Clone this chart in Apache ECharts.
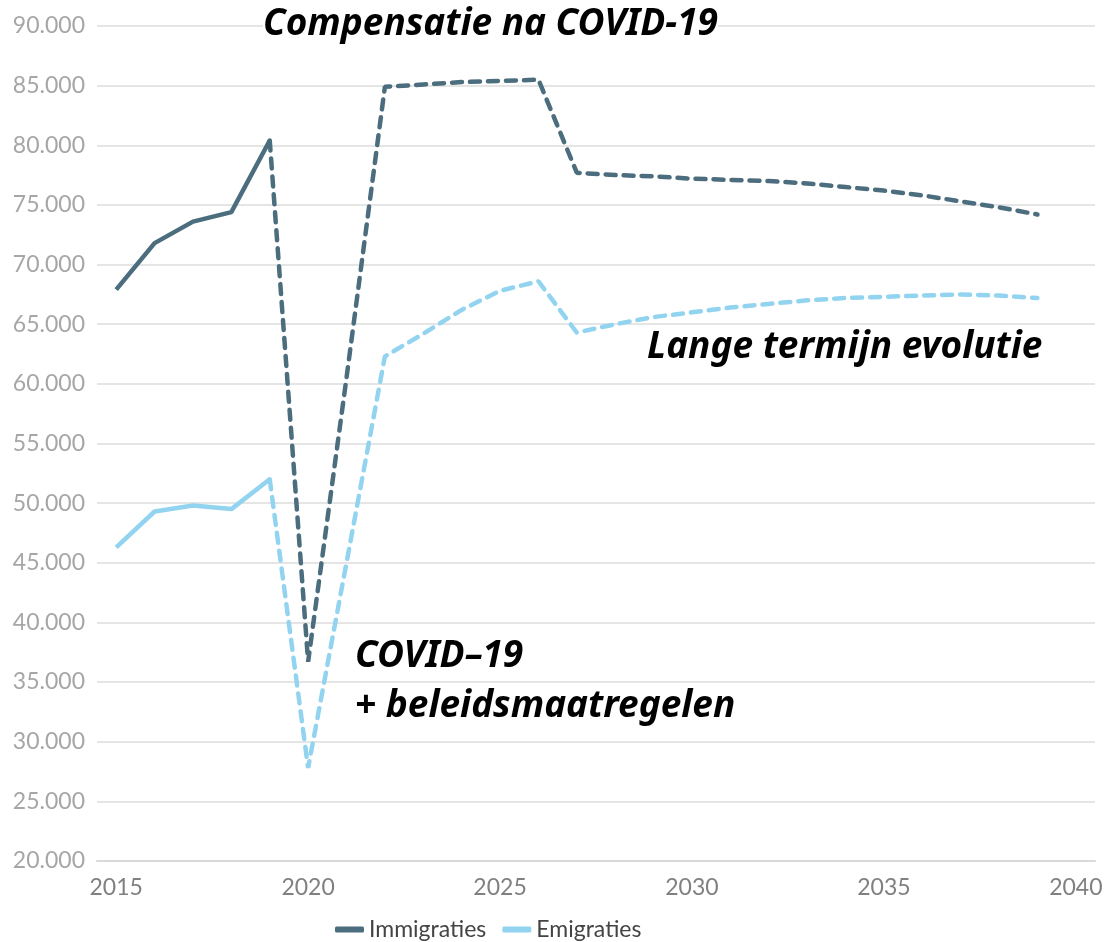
<!DOCTYPE html>
<html>
<head>
<meta charset="utf-8">
<script src="https://cdn.jsdelivr.net/npm/echarts@6/dist/echarts.min.js"></script>
<style>
  html, body { margin: 0; padding: 0; background: #fff; }
  #chart { width: 1107px; height: 942px; }
</style>
</head>
<body>
<div id="chart"></div>
<script>
var years = [];
for (var y = 2015; y <= 2040; y++) years.push(String(y));

// waargenomen 2015-2019
var immiObs = [67900, 71800, 73600, 74400, 80400];
var emiObs = [46300, 49300, 49800, 49500, 52000];
// projectie 2019-2039
var immiProj = [80400, 36700, 60500, 84900, 85100, 85300, 85400, 85500, 77700, 77500, 77400, 77200,
    77100, 77000, 76800, 76500, 76200, 75800, 75300, 74800, 74200];
var emiProj = [52000, 27800, 45000, 62300, 64200, 66200, 67800, 68600, 64300, 65000, 65600, 66000,
    66400, 66700, 67000, 67200, 67300, 67400, 67500, 67400, 67200];

var colImmi = '#4b6d7d';
var colEmi = '#92d4f0';

function pairs(startYear, vals) {
    return vals.map(function (v, i) { return [String(startYear + i), v]; });
}

var chart = echarts.init(document.getElementById('chart'));
var labelFont = 'Lato, "DejaVu Sans", sans-serif';
var noteFont = '"Noto Sans", "Open Sans", sans-serif';

function note(x, y, txt, bg) {
    return {
        type: 'text',
        z: 100,
        style: { x: x, y: y, text: txt, fill: '#000', verticalAlign: 'middle',
            backgroundColor: bg || 'transparent',
            font: 'italic bold 37px ' + noteFont }
    };
}

chart.setOption({
    animation: false,
    grid: { left: 97, right: 12, top: 26, bottom: 81 },
    legend: {
        left: 330,
        top: 913,
        itemGap: 16,
        itemWidth: 29,
        itemHeight: 6,
        icon: 'roundRect',
        textStyle: { color: '#444', fontSize: 23, fontFamily: labelFont },
        data: ['Immigraties', 'Emigraties']
    },
    xAxis: {
        type: 'category',
        data: years,
        boundaryGap: true,
        axisLine: { lineStyle: { color: '#d9d9d9', width: 2 } },
        axisTick: { alignWithLabel: true, interval: 4, length: 8, lineStyle: { color: '#aaa', width: 1.5 } },
        axisLabel: { interval: 4, color: '#808080', fontSize: 23, fontFamily: labelFont, margin: 15 },
        splitLine: { show: false }
    },
    yAxis: {
        type: 'value',
        min: 20000,
        max: 90000,
        interval: 5000,
        axisLine: { show: false },
        axisTick: { show: false },
        splitLine: { lineStyle: { color: '#dddddd', width: 1.5 } },
        axisLabel: {
            color: '#a6a6a6', fontSize: 23, fontFamily: labelFont, margin: 12,
            formatter: function (v) { return (v / 1000).toFixed(0) + '.000'; }
        }
    },
    series: [
        {
            name: 'Immigraties', type: 'line', data: pairs(2015, immiObs),
            showSymbol: false, color: colImmi,
            lineStyle: { width: 4.5, color: colImmi }, z: 3
        },
        {
            name: 'Emigraties', type: 'line', data: pairs(2015, emiObs),
            showSymbol: false, color: colEmi,
            lineStyle: { width: 4.5, color: colEmi }, z: 2
        },
        {
            name: 'Immigraties', type: 'line', data: pairs(2019, immiProj),
            showSymbol: false, color: colImmi,
            lineStyle: { width: 4.5, color: colImmi, type: [10, 8], cap: 'round' }, z: 3
        },
        {
            name: 'Emigraties', type: 'line', data: pairs(2019, emiProj),
            showSymbol: false, color: colEmi,
            lineStyle: { width: 4.5, color: colEmi, type: [10, 8], cap: 'round' }, z: 2
        }
    ],
    graphic: [
        note(263, 24, 'Compensatie na COVID-19', '#fff'),
        note(647, 347, 'Lange termijn evolutie'),
        note(355, 656, 'COVID\u201319'),
        note(355, 706, '+ beleidsmaatregelen')
    ]
});
</script>
</body>
</html>
